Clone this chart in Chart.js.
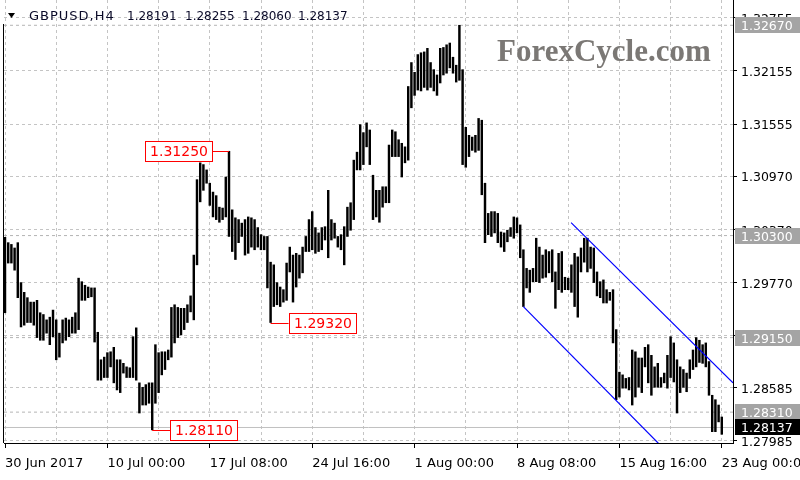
<!DOCTYPE html>
<html><head><meta charset="utf-8">
<script src="https://cdn.jsdelivr.net/npm/chart.js@4.4.0/dist/chart.umd.min.js"></script>
<style>html,body{margin:0;padding:0;background:#fff}canvas{display:block}</style>
</head><body>
<canvas id="c" width="800" height="480"></canvas>
<script>
// ---------- data ----------
const symbolName = 'GBPUSD,H4';
const lastOHLC = [1.28191, 1.28255, 1.28060, 1.28137];
const highs = [
1.3028,1.3022,1.3020,1.3016,1.3022,1.2977,1.2966,1.2960,1.2955,1.2955,
1.2957,1.2943,1.2941,1.2935,1.2938,1.2946,1.2935,1.2920,1.2935,1.2937,
1.2935,1.2938,1.2943,1.2982,1.2978,1.2974,1.2972,1.2971,1.2971,1.2921,
1.2890,1.2893,1.2898,1.2899,1.2904,1.2890,1.2890,1.2886,1.2882,1.2881,
1.2916,1.2926,1.2864,1.2859,1.2862,1.2864,1.2864,1.2907,1.2898,1.2899,
1.2899,1.2901,1.2949,1.2952,1.2949,1.2948,1.2948,1.2952,1.2962,1.3008,
1.3093,1.3112,1.3110,1.3104,1.3089,1.3079,1.3075,1.3062,1.3061,1.3096,
1.31250,1.3059,1.3050,1.3048,1.3044,1.3048,1.3051,1.3050,1.3048,1.3039,
1.3031,1.3029,1.3029,1.3000,1.2997,1.2977,1.2972,1.2969,1.2999,1.3017,
1.3008,1.3010,1.3008,1.3017,1.3029,1.3048,1.3057,1.3039,1.3033,1.3039,
1.3040,1.3081,1.3048,1.3044,1.3029,1.3031,1.3040,1.3062,1.3067,1.3115,
1.3124,1.3155,1.3146,1.3157,1.3149,1.3098,1.3081,1.3081,1.3085,1.3085,
1.3132,1.3149,1.3147,1.3138,1.3134,1.3130,1.3198,1.3225,1.3214,1.3234,
1.3236,1.3237,1.3241,1.3225,1.3217,1.3211,1.3241,1.3242,1.3245,1.3247,
1.3231,1.3222,1.32670,1.3217,1.3152,1.3143,1.3141,1.3143,1.3162,1.3160,
1.3089,1.3055,1.3057,1.3057,1.3055,1.3034,1.3033,1.3036,1.3039,1.3051,
1.3050,1.3042,1.3014,1.2993,1.2991,1.2993,1.3027,1.3017,1.3008,1.3014,
1.3012,1.3014,1.2989,1.3010,1.3012,1.2983,1.2982,1.2997,1.3010,1.3006,
1.3016,1.3027,1.3027,1.3017,1.3016,1.2989,1.2978,1.2980,1.2969,1.2966,
1.2969,1.2924,1.2876,1.2873,1.2869,1.2870,1.2901,1.2899,1.2892,1.2892,
1.2904,1.2907,1.2895,1.2882,1.2886,1.2870,1.2875,1.2895,1.2916,1.2909,
1.2890,1.2882,1.2879,1.2875,1.2890,1.2901,1.2915,1.2912,1.2907,1.2909,
1.2888,1.2850,1.2845,1.2839,1.28255
];
const lows = [
1.2943,1.2999,1.2999,1.2991,1.2960,1.2927,1.2929,1.2932,1.2932,1.2929,
1.2915,1.2912,1.2912,1.2920,1.2907,1.2916,1.2890,1.2893,1.2909,1.2912,
1.2916,1.2920,1.2920,1.2924,1.2957,1.2957,1.2960,1.2961,1.2910,1.2867,
1.2867,1.2870,1.2870,1.2882,1.2864,1.2856,1.2853,1.2875,1.2870,1.2870,
1.2870,1.2867,1.2830,1.2839,1.2839,1.2841,1.28110,1.2841,1.2853,1.2873,
1.2879,1.2890,1.2893,1.2909,1.2915,1.2918,1.2924,1.2932,1.2944,1.2935,
1.2997,1.3068,1.3081,1.3089,1.3064,1.3051,1.3048,1.3045,1.3048,1.3051,
1.3029,1.3012,1.3003,1.3022,1.3029,1.3008,1.3010,1.3017,1.3014,1.3017,
1.3014,1.3014,1.2971,1.29320,1.2950,1.2952,1.2950,1.2955,1.2957,1.2989,
1.2955,1.2972,1.2982,1.2988,1.3012,1.3012,1.3014,1.3010,1.3012,1.3014,
1.3025,1.3005,1.3025,1.3027,1.3017,1.3014,1.2997,1.3029,1.3036,1.3048,
1.3104,1.3104,1.3110,1.3130,1.3110,1.3048,1.3051,1.3045,1.3062,1.3067,
1.3067,1.3119,1.3119,1.3119,1.3096,1.3112,1.3115,1.3174,1.3188,1.3194,
1.3193,1.3197,1.3194,1.3197,1.3193,1.3188,1.3202,1.3211,1.3213,1.3219,
1.3213,1.3203,1.3205,1.3110,1.3107,1.3119,1.3126,1.3124,1.3126,1.3076,
1.3022,1.3031,1.3029,1.3033,1.3022,1.3017,1.3012,1.3023,1.3029,1.3027,
1.3033,1.3005,1.2950,1.2971,1.2966,1.2978,1.2978,1.2977,1.2982,1.2983,
1.2988,1.2978,1.2948,1.2969,1.2966,1.2969,1.2969,1.2966,1.2950,1.2938,
1.2989,1.3000,1.2989,1.2993,1.2977,1.2962,1.2960,1.2954,1.2954,1.2957,
1.2909,1.2845,1.2848,1.2858,1.2858,1.2856,1.2839,1.2848,1.2859,1.2853,
1.2882,1.2864,1.2850,1.2859,1.2859,1.2859,1.2864,1.2858,1.2870,1.2865,
1.2830,1.2853,1.2859,1.2854,1.2869,1.2879,1.2882,1.2887,1.2886,1.2882,
1.2850,1.2809,1.2809,1.2820,1.28060
];
const xTickLabels = ['30 Jun 2017','10 Jul 00:00','17 Jul 08:00','24 Jul 16:00','1 Aug 00:00','8 Aug 08:00','15 Aug 16:00','23 Aug 00:00'];
const yTickValues = [1.32755,1.32155,1.31555,1.30970,1.30370,1.29770,1.29170,1.28585,1.27985];
const levelPrices = [1.32670,1.30300,1.29150,1.28310];
const bidPrice = 1.28137;
const markedBars = [70, 83, 46];
const markedPrices = [1.31250, 1.29320, 1.28110];
const markedSide = ['left','right','right'];
const upperChannel = [{x:176.9,y:1.30445},{x:227.5,y:1.28639}];
const lowerChannel = [{x:162.0,y:1.29499},{x:204.7,y:1.27940}];
const watermark = 'ForexCycle.com';

// ---------- chart ----------
const X_MIN = -0.3125, X_MAX = 227.5;
const Y_MIN = 1.27962, Y_MAX = 1.32955;
const FONT = '"DejaVu Sans", Verdana, sans-serif';

const overlay = {
  id: 'overlay',
  afterDraw(chart) {
    const {ctx, scales: {x, y}, chartArea: ca} = chart;
    ctx.save();
    // left frame
    ctx.strokeStyle = '#000'; ctx.lineWidth = 1;
    ctx.beginPath(); ctx.moveTo(ca.left - 0.5, 24); ctx.lineTo(ca.left - 0.5, ca.bottom); ctx.stroke();

    // watermark
    ctx.font = 'bold 31px "Liberation Serif", "DejaVu Serif", serif';
    ctx.fillStyle = '#7b7875';
    ctx.textBaseline = 'alphabetic'; ctx.textAlign = 'left';
    ctx.fillText(watermark, 497, 61);

    // title
    ctx.fillStyle = '#000';
    ctx.beginPath(); ctx.moveTo(8, 13); ctx.lineTo(15, 13); ctx.lineTo(11.5, 18); ctx.closePath(); ctx.fill();
    ctx.fillStyle = '#0a0a28';
    ctx.font = '13px ' + FONT;
    ctx.letterSpacing = '1px';
    ctx.fillText(symbolName, 29, 20);
    ctx.letterSpacing = '0px';
    ctx.font = '12px ' + FONT;
    const tx = [127, 185, 242, 298];
    lastOHLC.forEach((v, i) => ctx.fillText(v.toFixed(5), tx[i], 20));

    // red marked labels
    ctx.font = '14px ' + FONT;
    markedBars.forEach((b, i) => {
      const px = x.getPixelForValue(b);
      const py = Math.round(y.getPixelForValue(markedPrices[i])) + 0.5;
      const w = 67, h = 20;
      let left, lineFrom, lineTo;
      if (markedSide[i] === 'left') { left = px - 17 - w; lineFrom = left + w; lineTo = px; }
      else { left = px + 18; lineFrom = px; lineTo = left; }
      ctx.strokeStyle = '#ff0000'; ctx.lineWidth = 1;
      ctx.beginPath(); ctx.moveTo(lineFrom, py); ctx.lineTo(lineTo, py); ctx.stroke();
      ctx.fillStyle = '#fff';
      ctx.fillRect(Math.round(left) + 0.5, py - h / 2, w, h);
      ctx.strokeRect(Math.round(left) + 0.5, py - h / 2, w, h);
      ctx.fillStyle = '#ff0000'; ctx.textAlign = 'center'; ctx.textBaseline = 'middle';
      ctx.fillText(markedPrices[i].toFixed(5), Math.round(left) + w / 2 + 0.5, py + 1);
    });

    // right axis price boxes
    ctx.font = '12.5px ' + FONT; ctx.textAlign = 'left'; ctx.textBaseline = 'middle';
    const box = (p, bg) => {
      const py = Math.round(y.getPixelForValue(p));
      ctx.fillStyle = bg;
      ctx.fillRect(ca.right + 2, py - 8, 800 - ca.right - 2, 16);
      ctx.fillStyle = '#fff';
      ctx.fillText(p.toFixed(5), ca.right + 8, py + 1.5);
    };
    levelPrices.forEach(p => box(p, '#a4a4a4'));
    box(bidPrice, '#000');
    ctx.restore();
  }
};

const hLine = (v, color, dash, order) => ({
  type: 'line', data: [{x: X_MIN, y: v}, {x: X_MAX, y: v}],
  borderColor: color, borderWidth: 1, borderDash: dash, pointRadius: 0, order: order
});

new Chart(document.getElementById('c'), {
  type: 'bar',
  data: {
    datasets: [
      { type: 'bar', data: highs.map((h, i) => ({x: i, y: [lows[i], h]})),
        backgroundColor: '#000', borderWidth: 0, barThickness: 1.8, grouped: false, order: 1 },
      ...levelPrices.map(v => hLine(v, '#b4b4b4', [3, 3], 5)),
      hLine(bidPrice, '#c0c0c0', [], 4),
      { type: 'line', data: upperChannel, borderColor: '#0000ff', borderWidth: 1.2, pointRadius: 0, order: 0 },
      { type: 'line', data: lowerChannel, borderColor: '#0000ff', borderWidth: 1.2, pointRadius: 0, order: 0 }
    ]
  },
  options: {
    responsive: false, animation: false, devicePixelRatio: 1,
    layout: { padding: { left: 4, top: 0, right: 0, bottom: 0 } },
    plugins: { legend: { display: false }, tooltip: { enabled: false } },
    scales: {
      x: {
        type: 'linear', min: X_MIN, max: X_MAX, offset: false,
        grid: { offset: false, color: '#c4c4c4', lineWidth: 1, tickLength: 5,
          tickColor: c => (c.tick && c.tick.value % 32 === 0) ? '#000' : 'rgba(0,0,0,0)' },
        border: { display: true, color: '#000', width: 1, dash: [3, 3] },
        ticks: { autoSkip: false, maxRotation: 0, align: 'start', padding: 8, color: '#000',
          font: { family: 'DejaVu Sans', size: 13 },
          callback: v => (v % 32 === 0) ? xTickLabels[v / 32] : '' },
        afterBuildTicks: s => { const t = []; for (let v = 0; v <= 224; v += 16) t.push({value: v}); s.ticks = t; },
        afterFit: s => { s.height = 37; s.paddingLeft = 0; s.paddingRight = 0; }
      },
      y: {
        type: 'linear', position: 'right', min: Y_MIN, max: Y_MAX,
        grid: { color: '#c4c4c4', lineWidth: 1, tickLength: 4, tickColor: '#000' },
        border: { display: true, color: '#000', width: 1, dash: [3, 3] },
        ticks: { autoSkip: false, padding: 4, color: '#000', labelOffset: 2,
          font: { family: 'DejaVu Sans', size: 12.5 },
          callback: v => Number(v).toFixed(5) },
        afterBuildTicks: s => { s.ticks = yTickValues.map(v => ({value: v})); },
        afterFit: s => { s.width = 67; s.paddingTop = 0; s.paddingBottom = 0; }
      }
    }
  },
  plugins: [overlay]
});
</script>
</body></html>
